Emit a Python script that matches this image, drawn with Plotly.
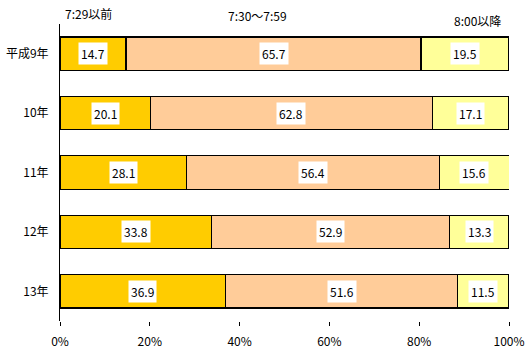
import plotly.graph_objects as go

categories = ["平成9年", "10年", "11年", "12年", "13年"]
series_names = ["7:29以前", "7:30～7:59", "8:00以降"]
early = [14.7, 20.1, 28.1, 33.8, 36.9]
middle = [65.7, 62.8, 56.4, 52.9, 51.6]
late = [19.5, 17.1, 15.6, 13.3, 11.5]
colors = ["#FFCC00", "#FFCC99", "#FFFF99"]
tick_vals = [0, 20, 40, 60, 80, 100]
tick_text = ["0%", "20%", "40%", "60%", "80%", "100%"]

FONT = "Noto Sans CJK JP"
series = [early, middle, late]

fig = go.Figure()
for name, vals, col in zip(series_names, series, colors):
    fig.add_trace(go.Bar(
        y=categories, x=vals, name=name, orientation="h",
        marker=dict(color=col, line=dict(color="black", width=1.2)),
        hoverinfo="x+y",
    ))

annotations = []
for i, cat in enumerate(categories):
    cum = 0
    for vals in series:
        v = vals[i]
        annotations.append(dict(
            x=cum + v / 2, y=cat, xref="x", yref="y",
            text=f"{v:.1f}", showarrow=False,
            bgcolor="white", borderpad=2,
            font=dict(family=FONT, size=12, color="black"),
        ))
        cum += v

# series header labels above the chart
header_pos = [(0.007, 1.037), (0.37, 1.030), (0.873, 1.013)]
for name, (px, py) in zip(series_names, header_pos):
    annotations.append(dict(
        x=px, y=py, xref="paper", yref="paper", text=name,
        showarrow=False, xanchor="left", yanchor="middle",
        font=dict(family=FONT, size=12, color="black"),
    ))

fig.update_layout(
    barmode="stack",
    bargap=0.44,
    width=527, height=351,
    margin=dict(l=60, r=18, t=24, b=30),
    paper_bgcolor="white", plot_bgcolor="white",
    showlegend=False,
    font=dict(family=FONT, size=12, color="black"),
    annotations=annotations,
    xaxis=dict(
        range=[0, 100], tickvals=tick_vals, ticktext=tick_text,
        showgrid=False, zeroline=False, showline=False,
        ticks="outside", ticklen=4, tickcolor="black",
        tickfont=dict(family=FONT, size=12),
        ticklabelstandoff=6, automargin=False,
    ),
    yaxis=dict(
        autorange="reversed", showgrid=False, zeroline=False,
        showline=True, linecolor="black", linewidth=1,
        ticks="", ticklabelstandoff=8, automargin=False,
        tickfont=dict(family=FONT, size=12),
    ),
)

fig.write_html("out.html")
